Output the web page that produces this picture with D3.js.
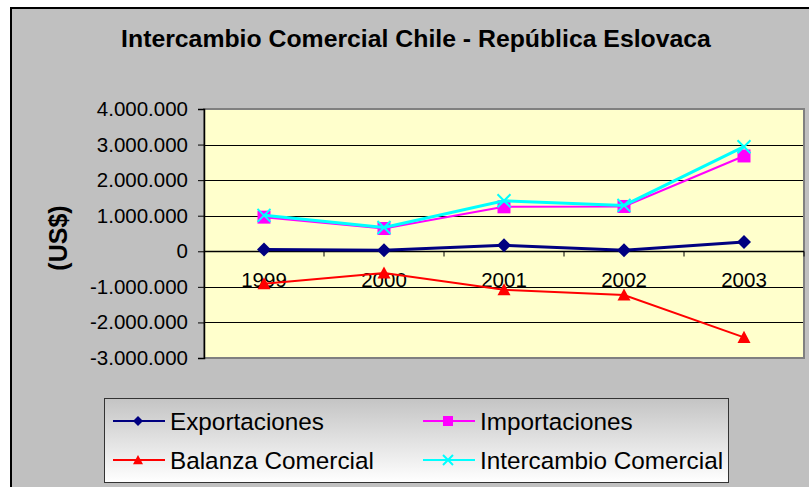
<!DOCTYPE html>
<html><head><meta charset="utf-8">
<script src="https://cdn.jsdelivr.net/npm/d3@7"></script>
<style>
html,body{margin:0;padding:0;background:#fff;}
svg{display:block;font-family:"Liberation Sans",Arial,sans-serif;}
</style></head>
<body>
<svg id="chart" width="809" height="487"></svg>
<script>
const years = ["1999","2000","2001","2002","2003"];
const exportaciones = [50000, 30000, 170000, 30000, 260000];
const importaciones = [960000, 640000, 1250000, 1260000, 2680000];
const balanza = [-910000, -610000, -1080000, -1230000, -2420000];
const intercambio = [1010000, 670000, 1420000, 1290000, 2940000];
const yTicks = [-3000000,-2000000,-1000000,0,1000000,2000000,3000000,4000000];
const seriesNames = ["Exportaciones","Importaciones","Balanza Comercial","Intercambio Comercial"];
const seriesColors = ["#000080","#FF00FF","#FF0000","#00FFFF"];
const seriesMarkers = ["diamond","square","triangle","cross"];
const title = "Intercambio Comercial Chile - República Eslovaca";
const yLabel = "(US$)";

const series = [exportaciones, importaciones, balanza, intercambio].map((v,i)=>({
  name: seriesNames[i], values: v, color: seriesColors[i], marker: seriesMarkers[i]
}));

const svg = d3.select("#chart");
svg.append("rect").attr("x",11).attr("y",8).attr("width",820).attr("height",500)
  .attr("fill","#C0C0C0").attr("stroke","#000").attr("stroke-width",2);

const plot = {left:204, right:804, top:109, bottom:358};
const x = d3.scaleBand().domain(years).range([plot.left, plot.right]).padding(0);
const y = d3.scaleLinear().domain([-3000000, 4000000]).range([plot.bottom, plot.top]);

svg.append("text").attr("x",416).attr("y",47).attr("text-anchor","middle")
  .attr("font-weight","bold").attr("font-size",24.8).attr("fill","#000").text(title);

svg.append("text").attr("transform","translate(67,238) rotate(-90)")
  .attr("text-anchor","middle").attr("font-weight","bold").attr("font-size",25)
  .attr("fill","#000").text(yLabel);

svg.append("rect").attr("x",plot.left).attr("y",plot.top)
  .attr("width",plot.right-plot.left).attr("height",plot.bottom-plot.top)
  .attr("fill","#FFFFCC");

svg.append("g").selectAll("line").data(yTicks).join("line")
  .attr("x1",plot.left).attr("x2",plot.right)
  .attr("y1",d=>Math.round(y(d))+0.5).attr("y2",d=>Math.round(y(d))+0.5)
  .attr("stroke","#000").attr("stroke-width",1);

svg.append("rect").attr("x",plot.left).attr("y",plot.top)
  .attr("width",plot.right-plot.left).attr("height",plot.bottom-plot.top)
  .attr("fill","none").attr("stroke","#808080").attr("stroke-width",2);

const fmt = d => d3.format(",")(d).replace(/,/g,".").replace("−","-");
const yAxis = d3.axisLeft(y).tickValues(yTicks).tickSize(6).tickPadding(10).tickFormat(fmt);
const gy = svg.append("g").attr("transform",`translate(${plot.left},0)`).call(yAxis);
gy.select(".domain").attr("stroke","#000").attr("stroke-width",1.5);
gy.selectAll(".tick line").attr("stroke","#000");
gy.selectAll(".tick text").attr("font-size",20.5).attr("fill","#000")
  .attr("font-family","'Liberation Sans',Arial,sans-serif");

const y0 = Math.round(y(0))+0.5;
svg.append("line").attr("x1",plot.left).attr("x2",plot.right).attr("y1",y0).attr("y2",y0)
  .attr("stroke","#000").attr("stroke-width",1.5);
const bounds = years.map(d=>x(d)).concat([plot.right]).slice(1);
svg.append("g").selectAll("line").data(bounds).join("line")
  .attr("x1",d=>d).attr("x2",d=>d).attr("y1",y0).attr("y2",y0+5)
  .attr("stroke","#000");
svg.append("g").selectAll("text").data(years).join("text")
  .attr("x",d=>x(d)+x.bandwidth()/2).attr("y",y0+35)
  .attr("text-anchor","middle").attr("font-size",20.5).attr("fill","#000").text(d=>d);

function drawMarker(g, type, color, s){
  if(type==="diamond"){
    g.append("path").attr("d",`M0,${-s}L${s},0L0,${s}L${-s},0Z`).attr("fill",color);
  } else if(type==="square"){
    g.append("rect").attr("x",-s).attr("y",-s).attr("width",2*s).attr("height",2*s).attr("fill",color);
  } else if(type==="triangle"){
    g.append("path").attr("d",`M0,${-s}L${s},${s*0.85}L${-s},${s*0.85}Z`).attr("fill",color);
  } else if(type==="cross"){
    g.append("path").attr("d",`M${-s},${-s}L${s},${s}M${s},${-s}L${-s},${s}`)
      .attr("stroke",color).attr("stroke-width",2).attr("fill","none");
  }
}

const widths = [3,2,2,3];
const line = d3.line().x((d,i)=>x(years[i])+x.bandwidth()/2).y(d=>y(d));
series.forEach((s,si)=>{
  const g = svg.append("g");
  g.append("path").datum(s.values).attr("d",line).attr("fill","none")
    .attr("stroke",s.color).attr("stroke-width",widths[si]);
  s.values.forEach((v,i)=>{
    const mg = g.append("g").attr("transform",`translate(${x(years[i])+x.bandwidth()/2},${y(v)})`);
    drawMarker(mg, s.marker, s.color, s.marker==="diamond"?7:6.5);
  });
});

const defs = svg.append("defs");
const grad = defs.append("linearGradient").attr("id","lg").attr("x1",0).attr("y1",0).attr("x2",0).attr("y2",1);
grad.append("stop").attr("offset","0%").attr("stop-color","#C4C4C4");
grad.append("stop").attr("offset","100%").attr("stop-color","#FFFFFF");
svg.append("rect").attr("x",104.5).attr("y",398.5).attr("width",624).attr("height",84)
  .attr("fill","url(#lg)").attr("stroke","#333").attr("stroke-width",1);
const legPos = [[113,421],[423,421],[113,460],[423,460]];
series.forEach((s,i)=>{
  const [lx,ly] = legPos[i];
  const g = svg.append("g").attr("transform",`translate(${lx},${ly})`);
  g.append("line").attr("x1",0).attr("x2",52).attr("y1",0).attr("y2",0)
    .attr("stroke",s.color).attr("stroke-width",2);
  const mg = g.append("g").attr("transform","translate(25,0)");
  drawMarker(mg, s.marker, s.color, 5);
  g.append("text").attr("x",57).attr("y",8.5).attr("font-size",24.3).attr("fill","#000").text(s.name);
});
</script>
</body></html>
